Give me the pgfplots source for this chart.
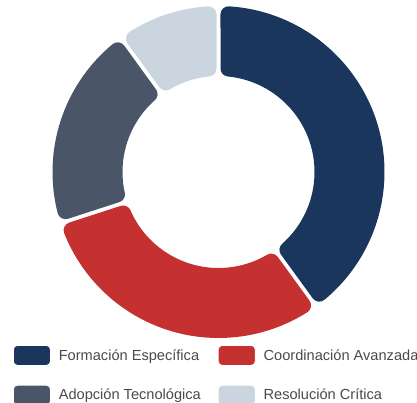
\documentclass[border=0pt]{standalone}
\usepackage{fontspec}
\setmainfont{Liberation Sans}
\usepackage{pgfplots}
\usepackage{pgfplotstable}
\pgfplotsset{compat=1.18}

\definecolor{seg0}{HTML}{1A365D}
\definecolor{seg1}{HTML}{C53030}
\definecolor{seg2}{HTML}{4A5568}
\definecolor{seg3}{HTML}{CBD5E0}
\definecolor{legtext}{HTML}{4A4A4A}

% share of each segment, clockwise from 12 o'clock
\pgfplotstableread{
val
40
30
20
10
}\data

\begin{document}
\begin{tikzpicture}[x=1pt,y=1pt]
\useasboundingbox (0,0) rectangle (417,402);
\begin{axis}[
    at={(0,0)}, anchor=south west,
    x=1pt, y=1pt,
    xmin=0, xmax=417, ymin=0, ymax=402,
    scale only axis, hide axis,
    swatch/.style={legend image code/.code={
        \draw[fill=#1, draw=white, line width=0.8pt, rounded corners=4pt]
            (0pt,-10pt) rectangle (37pt,10pt);}},
    legend columns=2,
    legend cell align=left,
    legend style={at={(13/417,57/402)}, anchor=north west,
        draw=none, fill=none, inner sep=0pt, outer sep=0pt,
        font=\fontsize{14.6}{18}\selectfont, text=legtext,
        nodes={inner sep=0pt},
        column sep=8pt, row sep=19pt,
        /tikz/every even column/.append style={column sep=17pt}},
]
% donut geometry (pt): centre, outer/inner radius, half gap, corner radius
\def\cx{218.5}\def\cy{230}
\def\R{166}\def\r{96}
\def\g{2}\def\d{8}
\pgfmathsetmacro{\Ro}{\R-\d}
\pgfmathsetmacro{\Ri}{\r+\d}
\pgfmathsetmacro{\dOut}{asin((\g+\d)/\Ro)}
\pgfmathsetmacro{\dIn}{asin((\g+\d)/\Ri)}
\def\cum{0}
\pgfplotsforeachungrouped \i in {0,...,3}{%
    \pgfplotstablegetelem{\i}{val}\of\data
    \pgfmathsetmacro{\Aone}{90-3.6*\cum}
    \pgfmathsetmacro{\cumnew}{\cum+\pgfplotsretval}
    \pgfmathsetmacro{\Atwo}{90-3.6*\cumnew}
    \pgfmathsetmacro{\aa}{\Aone-\dOut}
    \pgfmathsetmacro{\ab}{\Atwo+\dOut}
    \pgfmathsetmacro{\ac}{\Atwo+\dIn}
    \pgfmathsetmacro{\ad}{\Aone-\dIn}
    \pgfmathsetmacro{\xa}{\cx+\Ro*cos(\aa)}
    \pgfmathsetmacro{\ya}{\cy+\Ro*sin(\aa)}
    \pgfmathsetmacro{\xc}{\cx+\Ri*cos(\ac)}
    \pgfmathsetmacro{\yc}{\cy+\Ri*sin(\ac)}
    \edef\seg{\noexpand\fill[seg\i, draw=seg\i, line width=2*\d pt, line join=round]
        (axis cs:\xa,\ya) arc[start angle=\aa, end angle=\ab, radius=\Ro pt]
        -- (axis cs:\xc,\yc) arc[start angle=\ac, end angle=\ad, radius=\Ri pt]
        -- cycle;}%
    \seg
    \global\let\cum\cumnew
}
\addlegendimage{swatch=seg0}
\addlegendimage{swatch=seg1}
\addlegendimage{swatch=seg2}
\addlegendimage{swatch=seg3}
\legend{Formación Específica, Coordinación Avanzada, Adopción Tecnológica, Resolución Crítica}
\end{axis}
\end{tikzpicture}
\end{document}
